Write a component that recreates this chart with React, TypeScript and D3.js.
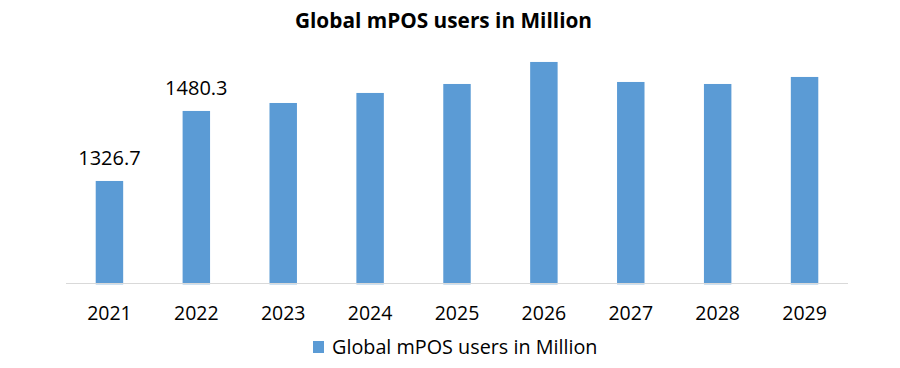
import React from "react";
import * as d3 from "d3";

const categories = ["2021", "2022", "2023", "2024", "2025", "2026", "2027", "2028", "2029"];
const values = [1326.7, 1480.3, 1497.8, 1519.8, 1539.5, 1587.8, 1543.9, 1539.5, 1554.9];
const labeled = ["1326.7", "1480.3", "", "", "", "", "", "", ""];
const seriesName = "Global mPOS users in Million";
const title = "Global mPOS users in Million";

const W = 900;
const H = 368;
const FONT = "'Open Sans', 'Noto Sans', sans-serif";

export default function App() {
  const x = d3.scaleBand<string>().domain(categories).range([66, 848]).paddingInner(0.684).paddingOuter(0.342);
  const y = d3.scaleLinear().domain([1100, 1600]).range([284.3, 56.4]);
  const base = y(1100);
  return (
    <svg width={W} height={H} style={{ position: "absolute", left: 0, top: 0, background: "#fff" }}>
      <text x={443.5} y={28} textAnchor="middle" fontFamily={FONT} fontWeight={700} fontSize={20.8} fill="#000">
        {title}
      </text>
      {categories.map((c, i) => (
        <rect key={c} x={x(c)} y={y(values[i])} width={x.bandwidth()} height={base - y(values[i])} fill="#5b9bd5" />
      ))}
      <line x1={66} x2={848} y1={283.5} y2={283.5} stroke="#d9d9d9" strokeWidth={1} />
      {categories.map((c, i) =>
        labeled[i] ? (
          <text key={"l" + c} x={(x(c) as number) + x.bandwidth() / 2} y={y(values[i]) - 15.5} textAnchor="middle" fontFamily={FONT} fontSize={20} fill="#000">
            {labeled[i]}
          </text>
        ) : null
      )}
      {categories.map((c) => (
        <text key={"t" + c} x={(x(c) as number) + x.bandwidth() / 2} y={320} textAnchor="middle" fontFamily={FONT} fontSize={19.5} fill="#000">
          {c}
        </text>
      ))}
      <rect x={313} y={341} width={11} height={12} fill="#5b9bd5" />
      <text x={332} y={354} fontFamily={FONT} fontSize={19.8} fill="#000">
        {seriesName}
      </text>
    </svg>
  );
}
